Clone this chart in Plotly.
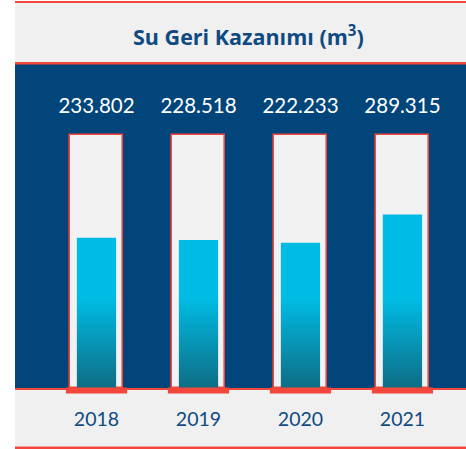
import plotly.graph_objects as go

# ---- data ----
years = ["2018", "2019", "2020", "2021"]
values = [233802, 228518, 222233, 289315]
title_text = "Su Geri Kazanımı (m<sup>3</sup>)"

# ---- styling constants ----
W, H = 466, 449
LEFT = 15
PLOT_TOP, PLOT_BOTTOM = 64, 388
PX_PER_UNIT = 4.19e-4
FLOOR = -124671  # axis floor (truncated baseline)

NAVY = "#01457a"
GRAY = "#f0f0f0"
RED = "#f4473b"
CYAN = "#00bce4"
TEAL = "#0e6d85"
TITLE_COL = "#0f4a80"
FONT = "Lato"


def yval(px):
    return FLOOR + (PLOT_BOTTOM - px) / PX_PER_UNIT


def py(px):
    return (PLOT_BOTTOM - px) / (PLOT_BOTTOM - PLOT_TOP)


TOP = yval(PLOT_TOP)
TRACK = yval(134.5)
LABEL_Y = yval(108)

xs = list(range(len(years)))
TUBE_W = 0.52
BAR_W = 0.385
BASE_W = 0.6

fig = go.Figure()

# tubes (tracks)
fig.add_trace(go.Bar(
    x=xs, y=[TRACK - FLOOR] * len(xs), base=FLOOR, width=TUBE_W,
    marker=dict(color="#f2f2f2", line=dict(color=RED, width=1.6)),
    hoverinfo="skip", showlegend=False,
))

# value bars
fig.add_trace(go.Bar(
    x=xs, y=[v - FLOOR for v in values], base=FLOOR, width=BAR_W,
    marker=dict(color=CYAN, line=dict(width=0)),
    customdata=values, hovertemplate="%{customdata}<extra></extra>",
    showlegend=False,
))

# gradient overlay on the value bars
gx, gy = [], []
for x, v in zip(xs, values):
    l, r = x - BAR_W / 2, x + BAR_W / 2
    gx += [l, r, r, l, l, None]
    gy += [FLOOR, FLOOR, v, v, FLOOR, None]
fig.add_trace(go.Scatter(
    x=gx, y=gy, mode="lines", fill="toself", line=dict(width=0),
    fillgradient=dict(type="vertical", start=FLOOR, stop=yval(225),
                      colorscale=[[0, TEAL], [0.55, CYAN], [1, CYAN]]),
    hoverinfo="skip", showlegend=False,
))

# value labels
fig.add_trace(go.Scatter(
    x=xs, y=[LABEL_Y] * len(xs), mode="text",
    text=[f"{v:,}".replace(",", ".") for v in values],
    textfont=dict(color="white", size=20.5, family=FONT),
    hoverinfo="skip", showlegend=False,
))

shapes = []


def band(y0px, y1px, color):
    shapes.append(dict(type="rect", xref="paper", yref="paper", x0=0, x1=1,
                       y0=py(y1px), y1=py(y0px), fillcolor=color,
                       line=dict(width=0), layer="below"))


band(1, 3, RED)
band(3, 62, GRAY)
band(62, 64.5, RED)
band(388, 390, RED)
band(390, 446.5, GRAY)
band(446.5, 449, RED)

for x in xs:
    shapes.append(dict(type="rect", xref="x", yref="paper",
                       x0=x - BASE_W / 2, x1=x + BASE_W / 2,
                       y0=py(393.5), y1=py(387.5), fillcolor=RED,
                       line=dict(width=0), layer="above"))

fig.update_layout(
    width=W, height=H,
    margin=dict(l=LEFT, r=0, t=PLOT_TOP, b=H - PLOT_BOTTOM, pad=0),
    paper_bgcolor="white", plot_bgcolor=NAVY,
    barmode="overlay", bargap=0,
    shapes=shapes,
    annotations=[dict(text=title_text, xref="paper", yref="paper",
                      x=(249 - LEFT) / (W - LEFT), y=py(35),
                      xanchor="center", yanchor="middle", showarrow=False,
                      font=dict(family="Open Sans", size=21.5, color=TITLE_COL,
                                weight="bold"))],
    xaxis=dict(range=[-0.799, 3.623], tickvals=xs, ticktext=years,
               showgrid=False, zeroline=False, showline=False,
               ticks="outside", ticklen=14, tickcolor="rgba(0,0,0,0)",
               tickfont=dict(family=FONT, size=19.5, color=TITLE_COL),
               fixedrange=True),
    yaxis=dict(range=[FLOOR, TOP], visible=False, fixedrange=True),
    font=dict(family=FONT),
)

fig.write_html("out.html", config={"displayModeBar": False},
               post_script="document.body.style.margin='0';")
